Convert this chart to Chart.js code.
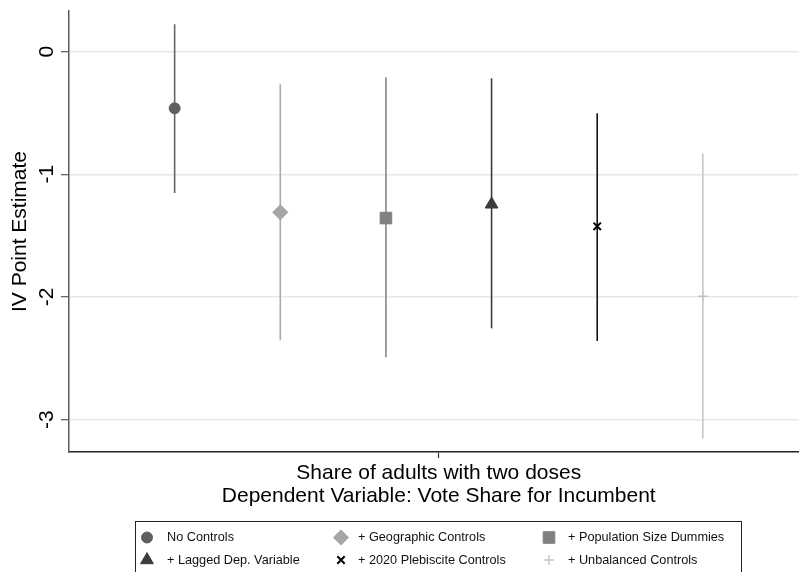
<!DOCTYPE html>
<html>
<head>
<meta charset="utf-8">
<title>IV Point Estimates</title>
<script src="https://cdn.jsdelivr.net/npm/chart.js@4.4.1/dist/chart.umd.min.js"></script>
<style>
  html, body { margin: 0; padding: 0; background: #ffffff; }
  #wrap { width: 799px; height: 572px; }
</style>
</head>
<body>
<div id="wrap"><canvas id="c" width="799" height="572"></canvas></div>
<script>
// Specifications, in left-to-right order
const specLabels = [
  'No Controls',
  '+ Geographic Controls',
  '+ Population Size Dummies',
  '+ Lagged Dep. Variable',
  '+ 2020 Plebiscite Controls',
  '+ Unbalanced Controls'
];
const specPositions = [1, 2, 3, 4, 5, 6];
// Point estimates and 95% confidence bounds
const estimates = [-0.462, -1.310, -1.357, -1.245, -1.424, -1.995];
const ciLower   = [-1.153, -2.353, -2.492, -2.256, -2.359, -3.155];
const ciUpper   = [ 0.223, -0.267, -0.210, -0.218, -0.503, -0.829];
// Axis ticks and titles
const yTickValues = [0, -1, -2, -3];
const xTickValues = [3.5];
const yTitle = 'IV Point Estimate';
const xTitleLines = ['Share of adults with two doses', 'Dependent Variable: Vote Share for Incumbent'];

// Marker appearance per specification
const markerStyle = [
  { pointStyle: 'circle',   radius: 5.5, fill: '#5f5f5f', line: '#666666', width: 1 },
  { pointStyle: 'rectRot',  radius: 7.6, fill: '#a6a6a6', line: '#a9a9a9', width: 1 },
  { pointStyle: 'rect',     radius: 8.2, fill: '#808080', line: '#868686', width: 1 },
  { pointStyle: 'triangle', radius: 7.4, fill: '#3c3c3c', line: '#3c3c3c', width: 1 },
  { pointStyle: 'crossRot', radius: 5.2, fill: '#000000', line: '#111111', width: 2 },
  { pointStyle: 'cross',    radius: 5.0, fill: '#c6c6c6', line: '#c8c8c8', width: 1.5 }
];

const FONT = '"Liberation Sans", Arial, Helvetica, sans-serif';

const datasets = [];
specLabels.forEach((label, i) => {
  const m = markerStyle[i];
  // confidence interval as a vertical segment
  datasets.push({
    label: label + ' CI',
    type: 'scatter',
    showLine: true,
    data: [{ x: specPositions[i], y: ciLower[i] }, { x: specPositions[i], y: ciUpper[i] }],
    borderColor: m.line,
    borderWidth: 1.6,
    pointRadius: 0,
    pointHoverRadius: 0,
    order: 2
  });
  // point estimate marker
  datasets.push({
    label: label,
    type: 'scatter',
    data: [{ x: specPositions[i], y: estimates[i] }],
    pointStyle: m.pointStyle,
    pointRadius: m.radius,
    pointHoverRadius: m.radius,
    backgroundColor: m.fill,
    borderColor: m.fill,
    pointBorderWidth: m.width,
    order: 1
  });
});

function drawMarker(ctx, m, x, y, scale) {
  ctx.save();
  ctx.fillStyle = m.fill;
  ctx.strokeStyle = m.fill;
  ctx.lineWidth = m.width;
  Chart.helpers.drawPoint(ctx, {
    pointStyle: m.pointStyle,
    radius: m.radius * scale,
    rotation: 0,
    borderWidth: m.width
  }, x, y);
  ctx.restore();
}

// Axis labels, titles and the legend box under the plot
const annotations = {
  id: 'annotations',
  afterDraw(chart) {
    const ctx = chart.ctx;
    const ys = chart.scales.y;
    const xs = chart.scales.x;
    ctx.save();
    ctx.fillStyle = '#000000';

    // y tick labels, turned to read upward
    ctx.font = '21px ' + FONT;
    ctx.textAlign = 'center';
    ctx.textBaseline = 'alphabetic';
    yTickValues.forEach(v => {
      const py = ys.getPixelForValue(v);
      ctx.save();
      ctx.translate(53, py);
      ctx.rotate(-Math.PI / 2);
      ctx.fillText(String(v === 0 ? 0 : v), 0, 0);
      ctx.restore();
    });

    // y title
    ctx.save();
    ctx.translate(26, (chart.chartArea.top + chart.chartArea.bottom) / 2);
    ctx.rotate(-Math.PI / 2);
    ctx.fillText(yTitle, 0, 0);
    ctx.restore();

    // x title, two centred lines
    const cx = xs.getPixelForValue(xTickValues[0]);
    ctx.textBaseline = 'middle';
    ctx.fillText(xTitleLines[0], cx, 473);
    ctx.fillText(xTitleLines[1], cx, 496);

    // legend
    const box = { left: 135.5, top: 521.5, right: 741.5, bottom: 590 };
    ctx.strokeStyle = '#222222';
    ctx.lineWidth = 1;
    ctx.strokeRect(box.left, box.top, box.right - box.left, box.bottom - box.top);
    const colMarker = [147, 341, 549];
    const colText = [167, 358, 568];
    const rowY = [537.5, 560];
    ctx.font = '12.7px ' + FONT;
    ctx.textAlign = 'left';
    ctx.textBaseline = 'middle';
    specLabels.forEach((label, i) => {
      const col = i % 3, row = Math.floor(i / 3);
      drawMarker(ctx, markerStyle[i], colMarker[col], rowY[row], 1.0);
      ctx.fillStyle = '#111111';
      ctx.fillText(label, colText[col], rowY[row]);
    });
    ctx.restore();
  }
};

new Chart(document.getElementById('c'), {
  type: 'scatter',
  data: { datasets },
  plugins: [annotations],
  options: {
    responsive: false,
    animation: false,
    layout: { autoPadding: false, padding: { top: 11, right: 0, left: 0, bottom: 0 } },
    plugins: {
      legend: { display: false },
      tooltip: { enabled: false },
      title: { display: false }
    },
    scales: {
      x: {
        type: 'linear',
        min: 0,
        max: 6.91,
        afterBuildTicks: s => { s.ticks = xTickValues.map(v => ({ value: v })); },
        afterFit: s => { s.height = 120; },
        ticks: { display: false },
        grid: {
          display: true,
          drawOnChartArea: false,
          drawTicks: true,
          tickLength: 6,
          tickColor: '#333333',
          tickWidth: 1.2
        },
        border: { display: true, color: '#222222', width: 1.5 }
      },
      y: {
        type: 'linear',
        min: -3.264,
        max: 0.331,
        afterBuildTicks: s => { s.ticks = yTickValues.map(v => ({ value: v })); },
        afterFit: s => { s.width = 69; },
        ticks: { display: false },
        grid: {
          display: true,
          drawOnChartArea: true,
          drawTicks: true,
          tickLength: 8,
          color: '#e8e8e8',
          lineWidth: 1.4,
          tickColor: '#555555',
          tickWidth: 1.2
        },
        border: { display: true, color: '#5a5a5a', width: 1.5 }
      }
    }
  }
});
</script>
</body>
</html>
